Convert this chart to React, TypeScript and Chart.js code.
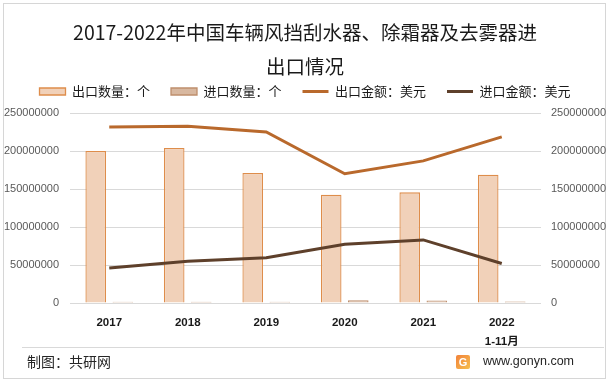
import React, { useEffect, useRef } from 'react';
import { Chart, registerables, layouts } from 'chart.js';

Chart.register(...registerables);

const categories: string[][] = [['2017'], ['2018'], ['2019'], ['2020'], ['2021'], ['2022', '1-11月']];
const exportQty = [200000000, 204000000, 171000000, 142600000, 145600000, 168700000];
const importQty = [1800000, 1600000, 1700000, 3500000, 3400000, 1900000];
const exportAmt = [231700000, 232600000, 225000000, 170000000, 187000000, 218600000];
const importAmt = [46000000, 55000000, 59600000, 77400000, 83000000, 52000000];
const seriesNames = ['出口数量：个', '进口数量：个', '出口金额：美元', '进口金额：美元'];
const axisMax = 250000000;
const axisStep = 50000000;
const titleLines = ['2017-2022年中国车辆风挡刮水器、除霜器及去雾器进', '出口情况'];

const CJK = '"Noto Sans CJK SC", "Microsoft YaHei", sans-serif';
const NUM = '"Liberation Sans", "Noto Sans CJK SC", sans-serif';

const spacerPlugin = {
  id: 'legendSpacer',
  beforeInit(chart: any) {
    const box: any = {
      position: 'top',
      weight: 1,
      fullSize: true,
      options: {},
      left: 0,
      top: 0,
      right: 0,
      bottom: 0,
      width: 0,
      height: 0,
      isHorizontal() {
        return true;
      },
      update(maxWidth: number) {
        this.width = maxWidth;
        this.height = 5;
      },
      draw() {},
      _layers() {
        return [{ z: 0, draw: () => {} }];
      },
    };
    layouts.addBox(chart, box);
  },
};

const footerPlugin = {
  id: 'footer',
  afterDraw(chart: any) {
    const ctx = chart.ctx as CanvasRenderingContext2D;
    ctx.save();
    ctx.strokeStyle = '#D9D9D9';
    ctx.lineWidth = 1;
    ctx.beginPath();
    ctx.moveTo(22, 347.5);
    ctx.lineTo(604, 347.5);
    ctx.stroke();
    ctx.fillStyle = '#262626';
    ctx.textBaseline = 'middle';
    ctx.textAlign = 'left';
    ctx.font = '14px ' + CJK;
    ctx.fillText('制图：共研网', 27, 362);
    const g = ctx.createLinearGradient(456, 355, 470, 369);
    g.addColorStop(0, '#F2813A');
    g.addColorStop(1, '#F6C04E');
    ctx.fillStyle = g;
    ctx.beginPath();
    (ctx as any).roundRect ? (ctx as any).roundRect(456, 355, 14, 14, 2) : ctx.rect(456, 355, 14, 14);
    ctx.fill();
    ctx.fillStyle = '#FFFFFF';
    ctx.font = 'bold 11px ' + NUM;
    ctx.textAlign = 'center';
    ctx.fillText('G', 463, 362.5);
    ctx.fillStyle = '#262626';
    ctx.textAlign = 'left';
    ctx.font = '12.5px ' + NUM;
    ctx.fillText('www.gonyn.com', 483, 362);
    ctx.restore();
  },
};

export default function App() {
  const ref = useRef<HTMLCanvasElement | null>(null);
  useEffect(() => {
    if (!ref.current) return;
    const chart = new Chart(ref.current, {
      type: 'bar',
      data: {
        labels: categories as any,
        datasets: [
          {
            type: 'bar',
            label: seriesNames[0],
            data: exportQty,
            backgroundColor: '#F1D1B9',
            borderColor: '#DE8D4B',
            borderWidth: 1.3,
            yAxisID: 'y',
            order: 1,
            categoryPercentage: 0.69,
            barPercentage: 0.76,
          },
          {
            type: 'bar',
            label: seriesNames[1],
            data: importQty,
            backgroundColor: '#D8B8A0',
            borderColor: '#BE8E6C',
            borderWidth: 1.3,
            yAxisID: 'y',
            order: 1,
            categoryPercentage: 0.69,
            barPercentage: 0.76,
          },
          {
            type: 'line',
            label: seriesNames[2],
            data: exportAmt,
            borderColor: '#B9692C',
            backgroundColor: '#B9692C',
            borderWidth: 3,
            pointRadius: 0,
            tension: 0,
            yAxisID: 'y1',
            order: 0,
          },
          {
            type: 'line',
            label: seriesNames[3],
            data: importAmt,
            borderColor: '#5E402B',
            backgroundColor: '#5E402B',
            borderWidth: 3,
            pointRadius: 0,
            tension: 0,
            yAxisID: 'y1',
            order: 0,
          },
        ] as any,
      },
      options: {
        animation: false,
        responsive: false,
        maintainAspectRatio: false,
        layout: { padding: { left: 4, right: 5, top: 0, bottom: 31 } },
        plugins: {
          tooltip: { enabled: false },
          title: {
            display: true,
            text: titleLines,
            color: '#1A1A1A',
            font: { family: CJK, size: 19.5, weight: 'normal', lineHeight: 1.744 },
            padding: { top: 16, bottom: -20 },
          },
          legend: {
            display: true,
            position: 'top',
            labels: {
              color: '#1A1A1A',
              font: { family: CJK, size: 13 },
              usePointStyle: true,
              pointStyleWidth: 26,
              boxHeight: 7,
              padding: 21,
              sort: (a: any, b: any) => a.datasetIndex - b.datasetIndex,
              generateLabels: (c: any) => {
                const items = Chart.defaults.plugins.legend.labels.generateLabels(c);
                items.forEach((it: any) => {
                  if (it.datasetIndex >= 2) {
                    it.pointStyle = 'line';
                    it.lineWidth = 3;
                  } else {
                    it.pointStyle = 'rect';
                    it.lineWidth = 1.3;
                  }
                });
                return items;
              },
            },
          },
        },
        scales: {
          x: {
            grid: { display: false },
            border: { display: false },
            ticks: {
              color: '#1A1A1A',
              font: { family: NUM, size: 11.5, weight: 'bold', lineHeight: 1.65 },
              padding: 2,
              maxRotation: 0,
              autoSkip: false,
            },
            afterFit: (s: any) => {
              s.height = 50;
            },
          },
          y: {
            position: 'left',
            min: 0,
            max: axisMax,
            grid: { color: '#D9D9D9', drawTicks: false, lineWidth: 1 },
            border: { display: false },
            ticks: {
              stepSize: axisStep,
              color: '#595959',
              font: { family: NUM, size: 11 },
              padding: 11,
              callback: (v: any) => String(v),
            },
            afterFit: (s: any) => {
              s.width = 66;
            },
          },
          y1: {
            position: 'right',
            min: 0,
            max: axisMax,
            grid: { display: false, drawTicks: false },
            border: { display: false },
            ticks: {
              stepSize: axisStep,
              color: '#595959',
              font: { family: NUM, size: 11 },
              padding: 10,
              callback: (v: any) => String(v),
            },
            afterFit: (s: any) => {
              s.width = 65;
            },
          },
        },
      } as any,
      plugins: [spacerPlugin, footerPlugin],
    });
    return () => chart.destroy();
  }, []);

  return (
    <div style={{ position: 'fixed', left: 0, top: 0, width: 611, height: 384, background: '#FFFFFF' }}>
      <div
        style={{
          position: 'absolute',
          left: 3,
          top: 3,
          width: 603,
          height: 376,
          border: '1px solid #D6D6D6',
          boxSizing: 'border-box',
        }}
      />
      <canvas ref={ref} width={611} height={384} style={{ position: 'absolute', left: 0, top: 0, width: 611, height: 384 }} />
    </div>
  );
}
